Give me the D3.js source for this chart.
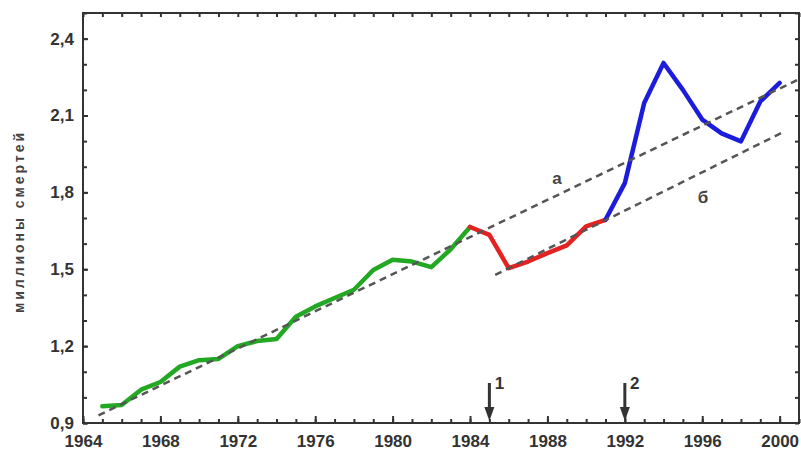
<!DOCTYPE html>
<html><head><meta charset="utf-8">
<script src="https://cdn.jsdelivr.net/npm/d3@7"></script>
<style>body{margin:0;background:#fff}svg{display:block}</style>
</head><body>
<script>
// ---- data ----
const greenYears = [1965,1966,1967,1968,1969,1970,1971,1972,1973,1974,1975,1976,1977,1978,1979,1980,1981,1982,1983,1984];
const greenValues = [0.965,0.97,1.03,1.06,1.12,1.145,1.15,1.2,1.22,1.228,1.315,1.355,1.388,1.42,1.497,1.537,1.53,1.508,1.578,1.665];
const redYears = [1984,1985,1986,1987,1988,1989,1990,1991];
const redValues = [1.665,1.634,1.504,1.53,1.563,1.593,1.667,1.693];
const blueYears = [1991,1992,1993,1994,1995,1996,1997,1998,1999,2000];
const blueValues = [1.693,1.836,2.149,2.305,2.2,2.084,2.03,1.999,2.155,2.227];
const trendAYears = [1964.8, 2000.9];
const trendAValues = [0.93, 2.238];
const trendBYears = [1985.3, 2000.1];
const trendBValues = [1.478, 2.032];
const xTickLabels = [1964,1968,1972,1976,1980,1984,1988,1992,1996,2000];
const yTickLabels = [0.9,1.2,1.5,1.8,2.1,2.4];
const arrowYears = [1985, 1992];
const arrowLabels = ["1","2"];
const trendLabels = ["а","б"];

const W = 801, H = 452;
const svg = d3.select("body").append("svg").attr("width", W).attr("height", H)
  .style("font-family", "'Liberation Sans', Arial, sans-serif");

const x = d3.scaleLinear().domain([1964, 2001]).range([83, 799]);
const y = d3.scaleLinear().domain([0.9, 2.5]).range([423, 13]);
const ink = "#333";

// minor ticks
const minorX = d3.range(1964, 2001.01, 1);
const minorY = d3.range(0.9, 2.501, 0.1);

function styleAxis(g){ g.select(".domain").remove(); g.selectAll("line").attr("stroke", ink).attr("stroke-width", 2); }

svg.append("g").attr("transform","translate(0,423)")
  .call(d3.axisBottom(x).tickValues(minorX).tickSize(-4).tickFormat(""))
  .call(styleAxis);
svg.append("g").attr("transform","translate(0,423)")
  .call(d3.axisBottom(x).tickValues(xTickLabels).tickSize(-7).tickPadding(12).tickFormat(d3.format("d")))
  .call(styleAxis)
  .call(g => g.selectAll("text").attr("fill", ink).style("font-size","17px").style("font-weight","bold"));
svg.append("g").attr("transform","translate(0,13)")
  .call(d3.axisTop(x).tickValues(minorX).tickSize(-4).tickFormat(""))
  .call(styleAxis);
svg.append("g").attr("transform","translate(83,0)")
  .call(d3.axisLeft(y).tickValues(minorY).tickSize(-4).tickFormat(""))
  .call(styleAxis);
svg.append("g").attr("transform","translate(83,0)")
  .call(d3.axisLeft(y).tickValues(yTickLabels).tickSize(-5).tickPadding(9).tickFormat(d => d3.format(".1f")(d).replace(".", ",")))
  .call(styleAxis)
  .call(g => g.selectAll("text").attr("fill", ink).style("font-size","17px").style("font-weight","bold"));
svg.append("g").attr("transform","translate(799,0)")
  .call(d3.axisRight(y).tickValues(minorY).tickSize(-4).tickFormat(""))
  .call(styleAxis);

// frame
svg.append("rect").attr("x", 83).attr("y", 13).attr("width", 716).attr("height", 410)
  .attr("fill","none").attr("stroke", ink).attr("stroke-width", 2);

// axis title
svg.append("text").attr("transform","translate(24,223) rotate(-90)")
  .attr("text-anchor","middle").attr("fill","#444")
  .style("font-size","14px").style("font-weight","bold")
  .attr("textLength", 180).attr("lengthAdjust","spacing")
  .text("миллионы смертей");

// series
const line = d3.line().x(d => x(d[0])).y(d => y(d[1]));
function drawSeries(ys, vs, color){
  svg.append("path").datum(ys.map((yr,i)=>[yr, vs[i]]))
    .attr("d", line).attr("fill","none").attr("stroke", color)
    .attr("stroke-width", 4.5).attr("stroke-linejoin","round").attr("stroke-linecap","round");
}
drawSeries(greenYears, greenValues, "#22a822");
drawSeries(redYears, redValues, "#e42222");
drawSeries(blueYears, blueValues, "#1c1cdc");

// trend lines
function drawTrend(ys, vs){
  svg.append("path").datum(ys.map((yr,i)=>[yr, vs[i]]))
    .attr("d", line).attr("fill","none").attr("stroke","#555")
    .attr("stroke-width", 2.5).attr("stroke-dasharray","7,5");
}
drawTrend(trendAYears, trendAValues);
drawTrend(trendBYears, trendBValues);

// trend labels
svg.append("text").attr("x", 557).attr("y", 184).attr("text-anchor","middle")
  .attr("fill","#444").style("font-size","17px").style("font-weight","bold").text(trendLabels[0]);
svg.append("text").attr("x", 703).attr("y", 203).attr("text-anchor","middle")
  .attr("fill","#444").style("font-size","17px").style("font-weight","bold").text(trendLabels[1]);

// arrows
arrowYears.forEach((yr, i) => {
  const ax = x(yr);
  svg.append("line").attr("x1", ax).attr("x2", ax).attr("y1", 383).attr("y2", 410)
    .attr("stroke", ink).attr("stroke-width", 3);
  svg.append("path").attr("d", `M${ax-5},407 L${ax+5},407 L${ax},421 Z`).attr("fill", ink);
  svg.append("text").attr("x", ax + 10).attr("y", 389).attr("text-anchor","middle")
    .attr("fill", ink).style("font-size","17px").style("font-weight","bold").text(arrowLabels[i]);
});
</script>
</body></html>
